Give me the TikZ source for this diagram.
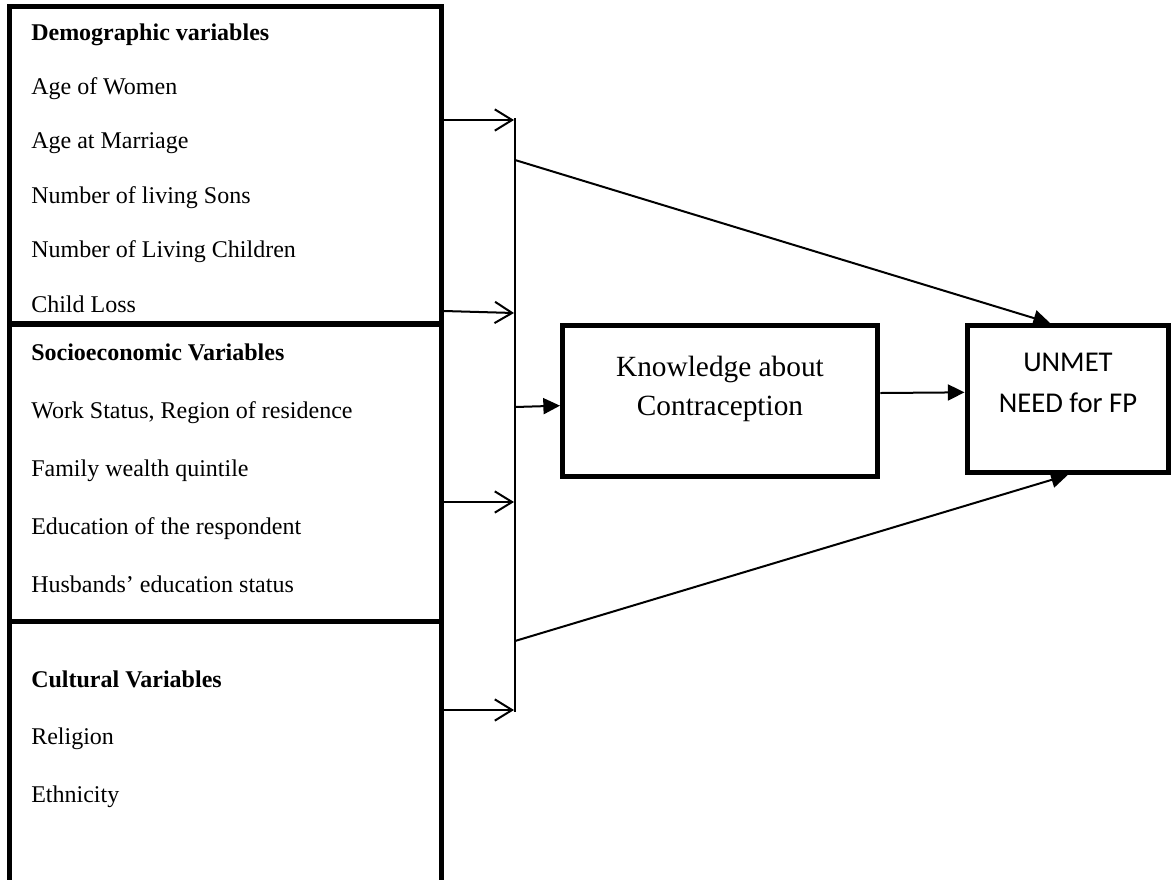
\documentclass[tikz,border=0pt]{standalone}
\usepackage{fontspec}
\setmainfont{Liberation Serif}
\newfontfamily\calibrifont{Carlito}
\usetikzlibrary{arrows.meta,calc}

\tikzset{
  varbox/.style={draw,line width=3.75pt,minimum width=324pt,anchor=north west},
  vartext/.style={anchor=base west,inner sep=0pt,font=\fontsize{18}{22}\selectfont},
  resbox/.style={draw,line width=3.75pt},
  openarr/.style={line width=1.5pt,-{Straight Barb[length=13pt,width=16pt]}},
  fillarr/.style={line width=1.5pt,-{Triangle[length=12.5pt,width=12pt]}},
}

\begin{document}
\begin{tikzpicture}[x=0.75pt,y=-0.75pt]
\useasboundingbox (0,0) rectangle (1171,879);

% left column of variable groups
\node[varbox,minimum height=238pt] (demo) at (7,4) {};
\node[varbox,minimum height=222.75pt] (socio) at (7,321.5) {};
\node[varbox,minimum height=225pt] (cult) at (7,618.5) {};

\node[vartext] (demo-head) at (31,40) {\textbf{Demographic variables}};
\foreach \txt [count=\i] in {Age of Women,Age at Marriage,Number of living Sons,Number of Living Children,Child Loss}
  \node[vartext] (demo-\i) at (31,{40+54.4*\i}) {\txt};

\node[vartext] (socio-head) at (31,360) {\textbf{Socioeconomic Variables}};
\foreach \txt [count=\i] in {{Work Status, Region of residence},Family wealth quintile,Education of the respondent,Husbands’ education status}
  \node[vartext] (socio-\i) at (31,{360+58.2*\i}) {\txt};

\node[vartext] (cult-head) at (31,687) {\textbf{Cultural Variables}};
\foreach \txt [count=\i] in {Religion,Ethnicity}
  \node[vartext] (cult-\i) at (31,{687+57.5*\i}) {\txt};

% knowledge and outcome
\node[resbox,minimum width=236.6pt,minimum height=113.25pt] (know) at (720.25,401) {};
\node[font=\fontsize{22}{29.25}\selectfont,align=center] (know-text) at (720,389) {Knowledge about\\Contraception};

\node[resbox,minimum width=151.1pt,minimum height=110.25pt] (unmet) at (1067.75,399) {};
\node[font=\calibrifont\fontsize{21.5}{30.75}\selectfont,align=center] (unmet-text) at (1068,383) {UNMET\\NEED for FP};

% collecting bar
\coordinate (bus-top) at (515,118);
\coordinate (bus-bot) at (515,712);
\draw[line width=1.5pt] (bus-top) -- (bus-bot);

\foreach \name/\yy in {j1/120,j2/313,j3/502,j4/710}
  \coordinate (\name) at (514,\yy);
\draw[openarr] (demo.east |- 0,120) -- (j1);
\draw[openarr] (demo.east |- 0,311) -- (j2);
\draw[openarr] (socio.east |- j3) -- (j3);
\draw[openarr] (cult.east |- j4) -- (j4);

\coordinate (bus-k) at (515,407);
\coordinate (bus-u1) at (515,160);
\coordinate (bus-u2) at (515,641);
\draw[fillarr] (bus-k) -- ([yshift=1pt]know.west |- bus-k);
\draw[fillarr] ([yshift=6pt]know.east) -- ([yshift=6.5pt]know.east -| unmet.west);
\draw[fillarr] (bus-u1) -- ([xshift=-13.3pt]unmet.north);
\draw[fillarr] (bus-u2) -- (unmet.south);
\end{tikzpicture}
\end{document}
